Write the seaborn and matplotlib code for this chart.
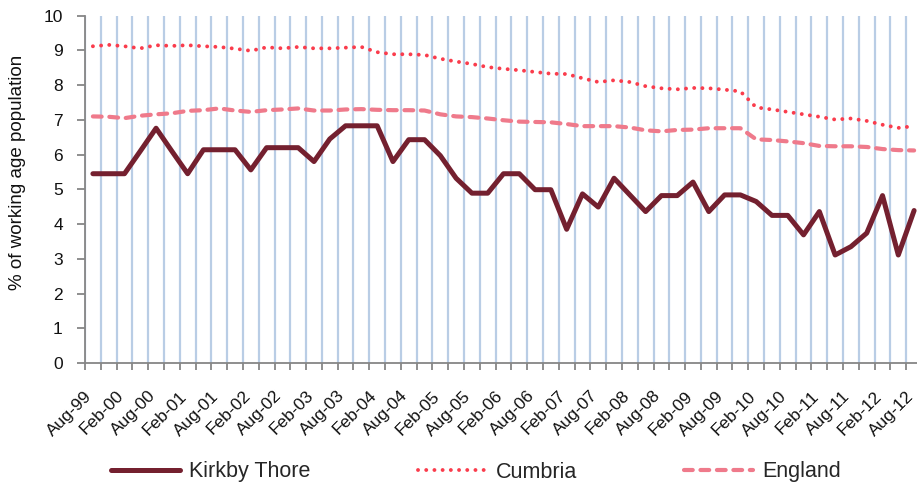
import numpy as np
import pandas as pd
import matplotlib.pyplot as plt
import seaborn as sns

# quarterly points Aug-99 .. Aug-12, labels on every second quarter
tick_labels = ['Aug-99', 'Feb-00', 'Aug-00', 'Feb-01', 'Aug-01', 'Feb-02', 'Aug-02',
               'Feb-03', 'Aug-03', 'Feb-04', 'Aug-04', 'Feb-05', 'Aug-05', 'Feb-06',
               'Aug-06', 'Feb-07', 'Aug-07', 'Feb-08', 'Aug-08', 'Feb-09', 'Aug-09',
               'Feb-10', 'Aug-10', 'Feb-11', 'Aug-11', 'Feb-12', 'Aug-12']

kirkby = [5.45, 5.45, 5.45, 6.10, 6.76, 6.10, 5.45, 6.14, 6.14, 6.14,
          5.56, 6.20, 6.20, 6.20, 5.80, 6.45, 6.83, 6.83, 6.83, 5.80,
          6.43, 6.43, 5.97, 5.32, 4.89, 4.89, 5.45, 5.45, 4.99, 4.99,
          3.85, 4.87, 4.49, 5.32, 4.84, 4.36, 4.82, 4.82, 5.21, 4.36,
          4.84, 4.84, 4.65, 4.25, 4.25, 3.69, 4.36, 3.11, 3.35, 3.74,
          4.82, 3.11, 4.39]

cumbria = [9.12, 9.16, 9.12, 9.06, 9.15, 9.13, 9.15, 9.12, 9.10, 9.05,
           8.99, 9.09, 9.06, 9.10, 9.06, 9.06, 9.08, 9.10, 8.95, 8.89,
           8.89, 8.87, 8.76, 8.68, 8.61, 8.52, 8.47, 8.43, 8.38, 8.33,
           8.32, 8.20, 8.09, 8.14, 8.09, 7.97, 7.91, 7.88, 7.92, 7.91,
           7.87, 7.82, 7.36, 7.30, 7.23, 7.16, 7.09, 7.01, 7.04, 6.97,
           6.86, 6.77, 6.82]

england = [7.10, 7.09, 7.05, 7.12, 7.16, 7.19, 7.26, 7.28, 7.33, 7.27,
           7.23, 7.28, 7.30, 7.33, 7.27, 7.27, 7.30, 7.31, 7.29, 7.28,
           7.28, 7.27, 7.16, 7.10, 7.08, 7.04, 6.99, 6.95, 6.94, 6.93,
           6.88, 6.82, 6.82, 6.82, 6.78, 6.70, 6.67, 6.71, 6.72, 6.76,
           6.76, 6.76, 6.44, 6.42, 6.38, 6.33, 6.25, 6.24, 6.24, 6.22,
           6.16, 6.13, 6.12]

df = pd.DataFrame({'q': np.arange(len(kirkby)), 'Kirkby Thore': kirkby,
                   'Cumbria': cumbria, 'England': england})

sns.set_style('white')
plt.rcParams['font.family'] = ['Liberation Sans', 'DejaVu Sans']

fig = plt.figure(figsize=(9.17, 4.88), dpi=100)
# axes runs slightly past the right edge, like the cropped original
ax = fig.add_axes([85 / 917, 1 - 363 / 488, 837 / 917, 347.3 / 488])

sns.lineplot(data=df, x='q', y='Kirkby Thore', ax=ax, color='#74202f', lw=3.6,
             label='Kirkby Thore')
sns.lineplot(data=df, x='q', y='Cumbria', ax=ax, color='#fa3c4c', lw=2.8,
             linestyle=(0, (0.01, 2.1)), dash_capstyle='round', label='Cumbria')
sns.lineplot(data=df, x='q', y='England', ax=ax, color='#ef7a8b', lw=3.0,
             linestyle=(0, (2.1, 1.85)), dash_capstyle='round', label='England')

ax.set_xlim(-0.5, len(kirkby) - 0.5)
ax.set_ylim(0, 10)
ax.set_yticks(range(0, 11))
# label anchors sit a touch left of the point so the last label fits
ax.set_xticks(np.arange(0, len(kirkby), 2) - 0.2)
ax.set_xticklabels(tick_labels, rotation=45, ha='right', va='center',
                   rotation_mode='anchor')
ax.set_xticks(np.arange(-0.5, len(kirkby), 1), minor=True)
ax.grid(which='minor', axis='x', color='#b9cde5', lw=1.6)
ax.grid(which='major', axis='y', visible=False)
ax.set_axisbelow(True)

ax.set_xlabel('')
ax.set_ylabel('')
for s in ['top', 'right']:
    ax.spines[s].set_visible(False)
for s in ['left', 'bottom']:
    ax.spines[s].set_color('#868686')
    ax.spines[s].set_linewidth(1.3)

ax.tick_params(axis='x', which='major', length=0, pad=22, labelsize=12.5,
               labelcolor='#111111')
ax.tick_params(axis='x', which='minor', length=5, width=1.3, color='#868686',
               direction='out', bottom=True)
ax.tick_params(axis='y', length=6, width=1.3, color='#868686', direction='out',
               left=True, pad=10, labelsize=12.5, labelcolor='#111111')

fig.text(18 / 917, 1 - 172 / 488, '% of working age population', rotation=90,
         ha='center', va='center', fontsize=13.5, color='#111111')

handles, labels = ax.get_legend_handles_labels()
if ax.get_legend() is not None:
    ax.get_legend().remove()
fig.legend(handles, labels, loc='center', bbox_to_anchor=(476 / 917, 16 / 488),
           ncol=3, frameon=False, fontsize=15.5, handlelength=3.2,
           handletextpad=0.4, columnspacing=5.0)

fig.savefig('out.png', dpi=100)
